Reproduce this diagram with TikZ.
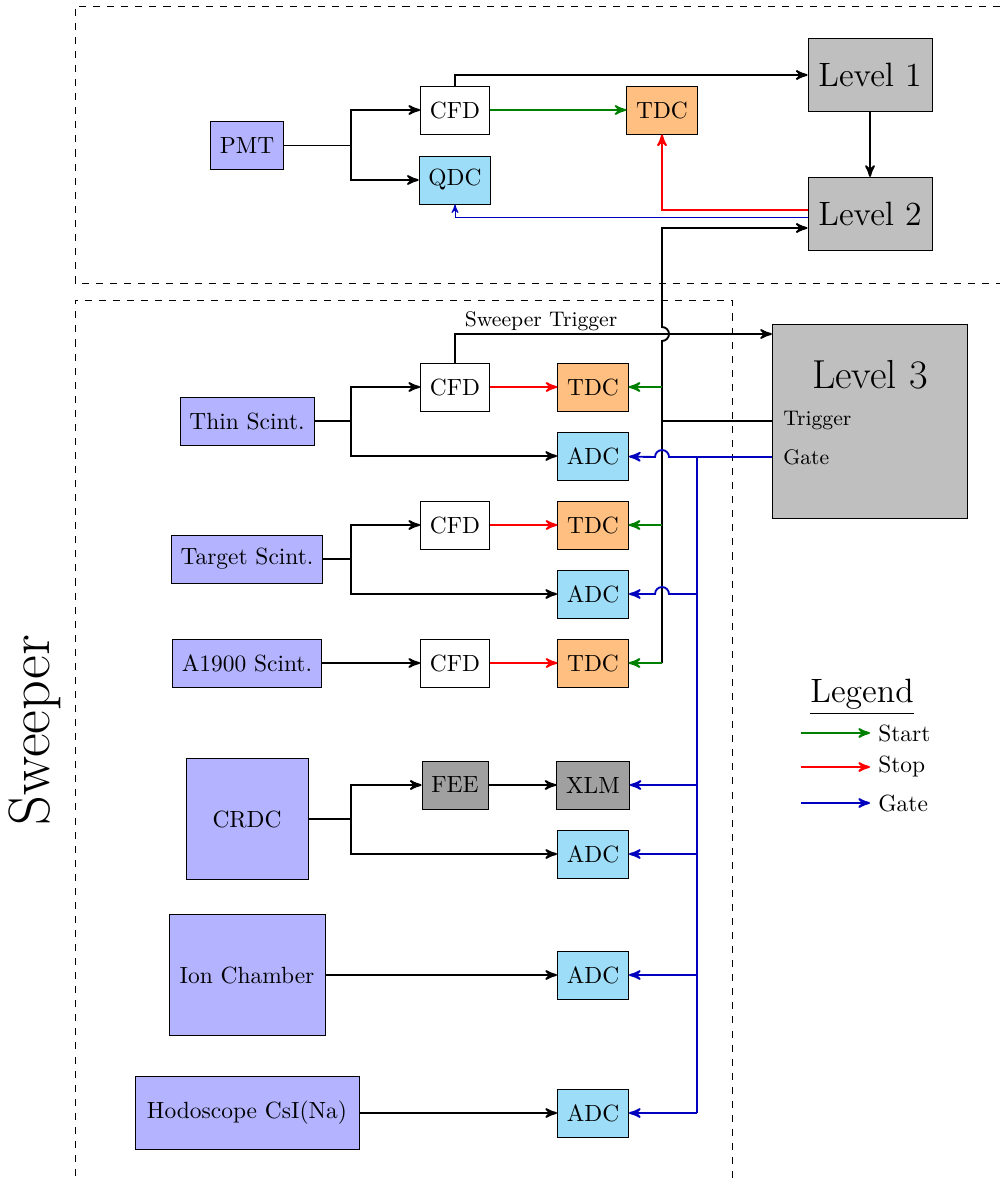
\documentclass[tikz,border=0pt]{standalone}
\usepackage{tikz}
\usetikzlibrary{arrows,calc}

\definecolor{detazul}{RGB}{179,179,255}
\definecolor{tdcnaranja}{RGB}{255,191,128}
\definecolor{adcazul}{RGB}{157,221,247}
\definecolor{xlmgris}{RGB}{160,160,160}
\definecolor{nivelgris}{RGB}{191,191,191}
\definecolor{verde}{RGB}{0,128,0}
\definecolor{azulg}{RGB}{0,0,190}

\tikzset{
  caja/.style={draw, minimum height=0.72cm, inner xsep=4pt},
  detector/.style={caja, fill=detazul},
  cfd/.style={caja, fill=white},
  tdc/.style={caja, fill=tdcnaranja},
  adc/.style={caja, fill=adcazul},
  xlm/.style={caja, fill=xlmgris},
  nivel/.style={draw, fill=nivelgris, font=\Large, minimum width=1.86cm, minimum height=1.1cm},
  senal/.style={thick},
  inicio/.style={thick, verde, ->},
  parada/.style={thick, red, ->},
  puerta/.style={thick, azulg, ->}
}

\begin{document}
\begin{tikzpicture}[x=0.15mm, y=-0.15mm, >=stealth']
\useasboundingbox (0,0) rectangle (1000,1182);

% Regiones
\draw[dashed] (1000,6) -- (75,6) -- (75,283) -- (1000,283);
\draw[dashed] (75,1176) -- (75,300) -- (732,300) -- (732,1182);
\node[rotate=90, font=\Huge] (sweeper) at (35,730) {Sweeper};

% PMT y niveles 1 y 2
\node[detector] (pmt) at (247,145) {PMT};
\node[cfd] (cfda) at (455,110) {CFD};
\node[adc] (qdc) at (455,180) {QDC};
\node[tdc] (tdca) at (662,110) {TDC};
\node[nivel] (lvluno) at (870,75) {Level 1};
\node[nivel] (lvldos) at (870,214) {Level 2};

\coordinate (sppmt) at (351,145);
\draw (pmt) -- (sppmt);
\draw[senal,->] (sppmt) |- (cfda);
\draw[senal,->] (sppmt) |- (qdc);
\draw[senal,->] (cfda.north) |- (lvluno);
\draw[inicio] (cfda) -- (tdca);
\draw[senal,->] (lvluno) -- (lvldos);
\draw[parada] ($(lvldos.west)+(0,-4)$) -| (tdca);
\draw[azulg, ->] ($(lvldos.west)+(0,3)$) -| (qdc);

% Nivel 3
\node[nivel, minimum width=2.93cm, minimum height=2.91cm] (lvltres) at (870,421) {};
\node[font=\LARGE] (lvltrestxt) at (870,375) {Level 3};
\node[font=\small, anchor=west] (trig) at (775,421) {Trigger};
\node[font=\small, anchor=west] (gate) at (775,457) {Gate};

% Detectores del Sweeper
\node[detector] (thin) at (247,421) {Thin Scint.};
\node[cfd] (cfdb) at (455,387) {CFD};
\node[tdc] (tdcb) at (593,387) {TDC};
\node[adc] (adcb) at (593,456) {ADC};

\node[detector] (target) at (247,559) {Target Scint.};
\node[cfd] (cfdc) at (455,525) {CFD};
\node[tdc] (tdcc) at (593,525) {TDC};
\node[adc] (adcc) at (593,594) {ADC};

\node[detector] (aneu) at (247,663) {A1900 Scint.};
\node[cfd] (cfdd) at (455,663) {CFD};
\node[tdc] (tdcd) at (593,663) {TDC};

\node[detector, minimum width=1.83cm, minimum height=1.82cm] (crdc) at (247,819) {CRDC};
\node[xlm] (fee) at (455,785) {FEE};
\node[xlm] (xlm) at (593,785) {XLM};
\node[adc] (adce) at (593,854) {ADC};

\node[detector, minimum width=2.34cm, minimum height=1.82cm] (ion) at (247,975) {Ion Chamber};
\node[adc] (adcf) at (593,975) {ADC};

\node[detector, minimum width=3.36cm, minimum height=1.1cm] (hodo) at (247,1113) {Hodoscope CsI(Na)};
\node[adc] (adcg) at (593,1113) {ADC};

% Separadores
\coordinate (spthin) at (351,421);
\coordinate (sptarget) at (351,559);
\coordinate (spcrdc) at (351,819);
\draw[senal] (thin) -- (spthin);
\draw[senal,->] (spthin) |- (cfdb);
\draw[senal,->] (spthin) |- (adcb);
\draw[senal] (target) -- (sptarget);
\draw[senal,->] (sptarget) |- (cfdc);
\draw[senal,->] (sptarget) |- (adcc);
\draw[senal] (crdc) -- (spcrdc);
\draw[senal,->] (spcrdc) |- (fee);
\draw[senal,->] (spcrdc) |- (adce);
\draw[senal,->] (aneu) -- (cfdd);
\draw[senal,->] (fee) -- (xlm);
\draw[senal,->] (ion) -- (adcf);
\draw[senal,->] (hodo) -- (adcg);

% Stop
\draw[parada] (cfdb) -- (tdcb);
\draw[parada] (cfdc) -- (tdcc);
\draw[parada] (cfdd) -- (tdcd);

% Sweeper Trigger
\coordinate (swtop) at (455,334);
\draw[senal,->] (cfdb.north) -- (swtop) -- (swtop -| lvltres.west);
\node[font=\small, anchor=south west, inner sep=1pt] (swlab) at ($(swtop)+(7,0)$) {Sweeper Trigger};

% Bus de trigger
\coordinate (busbot) at (662,663);
\coordinate (bustop) at (662,228);
\draw[senal,->] (busbot) -- ($(busbot |- swtop)+(0,7)$)
  arc[start angle=-90, end angle=90, radius=1.05mm] -- (bustop) -- (bustop -| lvldos.west);
\draw[senal] (lvltres.west |- trig) -- (busbot |- trig);
\draw[inicio] (busbot |- tdcb) -- (tdcb);
\draw[inicio] (busbot |- tdcc) -- (tdcc);
\draw[inicio] (busbot) -- (tdcd);

% Bus de gate
\coordinate (gatebot) at (697,1113);
\draw[puerta] (lvltres.west |- gate) -- ($(busbot |- gate)+(7,0)$)
  arc[start angle=0, end angle=180, radius=1.05mm] -- (adcb);
\draw[thick, azulg] (gatebot |- gate) -- (gatebot);
\draw[puerta] (gatebot |- adcc) -- ($(busbot |- adcc)+(7,0)$)
  arc[start angle=0, end angle=180, radius=1.05mm] -- (adcc);
\draw[puerta] (gatebot |- xlm) -- (xlm);
\draw[puerta] (gatebot |- adce) -- (adce);
\draw[puerta] (gatebot |- adcf) -- (adcf);
\draw[puerta] (gatebot) -- (adcg);

% Leyenda
\node[font=\Large] (leyenda) at (862,697) {\underline{Legend}};
\node[anchor=west] (lstart) at (870,733) {Start};
\node[anchor=west] (lstop) at (870,767) {Stop};
\node[anchor=west] (lgate) at (870,803) {Gate};
\coordinate (lga) at (801,733);
\coordinate (lgb) at (801,767);
\coordinate (lgc) at (801,803);
\draw[inicio] (lga) -- (lstart);
\draw[parada] (lgb) -- (lstop);
\draw[puerta] (lgc) -- (lgate);

\end{tikzpicture}
\end{document}
